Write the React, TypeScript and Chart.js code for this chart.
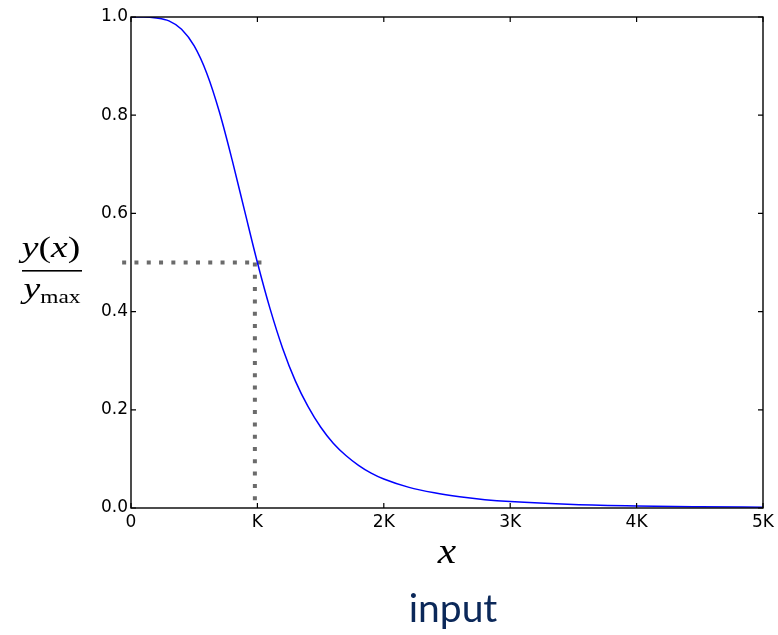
import React, { useEffect, useRef } from "react";
import { Chart, registerables } from "chart.js";

Chart.register(...registerables);

// Curve (x in units of K, y = y(x)/ymax)
const curveX = [0, 0.1, 0.2, 0.3, 0.4, 0.5, 0.6, 0.7, 0.8, 0.9, 1.0, 1.1, 1.2, 1.3, 1.4, 1.5, 1.6, 1.7, 1.8, 1.9, 2.0, 2.2, 2.4, 2.6, 2.8, 3.0, 3.5, 4.0, 4.5, 5.0];
const curveY = [1.0, 1.0, 0.998, 0.992, 0.975, 0.941, 0.885, 0.806, 0.709, 0.604, 0.5, 0.406, 0.325, 0.259, 0.207, 0.165, 0.132, 0.107, 0.087, 0.071, 0.059, 0.042, 0.031, 0.023, 0.017, 0.013, 0.007, 0.004, 0.0025, 0.0016];

const xTickLabels = ["0", "K", "2K", "3K", "4K", "5K"];
const yTickLabels = ["0.0", "0.2", "0.4", "0.6", "0.8", "1.0"];

// Dotted guide lines (half-maximum at x = K)
const guideHX = [-0.07, 1.04];
const guideHY = [0.5, 0.5];
const guideVX = [0.98, 0.98];
const guideVY = [0.5, 0.0];

const xLabel = "x";
const bottomCaption = "input";

type Piece = { text: string; font: string; dy: number };

function drawRun(ctx: CanvasRenderingContext2D, pieces: Piece[], cx: number, baseline: number, sx: number) {
  let total = 0;
  const widths = pieces.map((p) => {
    ctx.font = p.font;
    const w = ctx.measureText(p.text).width;
    total += w;
    return w;
  });
  ctx.save();
  ctx.translate(cx, baseline);
  ctx.scale(sx, 1);
  let x = -total / 2;
  ctx.textAlign = "left";
  ctx.textBaseline = "alphabetic";
  pieces.forEach((p, i) => {
    ctx.font = p.font;
    ctx.fillText(p.text, x, p.dy);
    x += widths[i];
  });
  ctx.restore();
}

const framePlugin = {
  id: "framePlugin",
  afterDraw(chart: any) {
    const ctx: CanvasRenderingContext2D = chart.ctx;
    const { left, right, top, bottom } = chart.chartArea;
    const xs = chart.scales.x;
    const ys = chart.scales.y;
    ctx.save();
    // inward ticks
    ctx.strokeStyle = "#000";
    ctx.lineWidth = 1.2;
    const tl = 5;
    xs.ticks.forEach((t: any) => {
      const px = xs.getPixelForValue(t.value);
      ctx.beginPath();
      ctx.moveTo(px, bottom);
      ctx.lineTo(px, bottom - tl);
      ctx.moveTo(px, top);
      ctx.lineTo(px, top + tl);
      ctx.stroke();
    });
    ys.ticks.forEach((t: any) => {
      const py = ys.getPixelForValue(t.value);
      ctx.beginPath();
      ctx.moveTo(left, py);
      ctx.lineTo(left + tl, py);
      ctx.moveTo(right, py);
      ctx.lineTo(right - tl, py);
      ctx.stroke();
    });
    // frame
    ctx.lineWidth = 1.4;
    ctx.strokeRect(left, top, right - left, bottom - top);

    // y-axis label as a fraction
    ctx.fillStyle = "#000";
    drawRun(
      ctx,
      [
        { text: "y", font: 'italic 29px "Liberation Serif"', dy: 0 },
        { text: "(", font: '29px "Liberation Serif"', dy: 0 },
        { text: "x", font: 'italic 29px "Liberation Serif"', dy: 0 },
        { text: ")", font: '29px "Liberation Serif"', dy: 0 },
      ],
      51,
      257,
      1.3
    );
    ctx.fillRect(22, 270, 60, 1.6);
    drawRun(
      ctx,
      [
        { text: "y", font: 'italic 29px "Liberation Serif"', dy: 0 },
        { text: "max", font: '18px "Liberation Serif"', dy: 5 },
      ],
      52,
      298,
      1.3
    );

    // x-axis label
    ctx.font = 'italic 36px "Liberation Serif"';
    ctx.textAlign = "center";
    ctx.textBaseline = "alphabetic";
    ctx.save();
    ctx.translate((left + right) / 2, 563);
    ctx.scale(1.15, 1);
    ctx.fillText(xLabel, 0, 0);
    ctx.restore();

    // caption
    ctx.font = '39px Lato';
    ctx.fillStyle = "#0b2859";
    ctx.fillText(bottomCaption, 453, 622);
    ctx.restore();
  },
};

export default function App() {
  const ref = useRef<HTMLCanvasElement | null>(null);
  useEffect(() => {
    if (!ref.current) return;
    const chart = new Chart(ref.current, {
      type: "line",
      data: {
        datasets: [
          {
            data: curveX.map((x, i) => ({ x, y: curveY[i] })),
            borderColor: "#0000ff",
            borderWidth: 1.5,
            pointRadius: 0,
            cubicInterpolationMode: "monotone",
            order: 1,
          },
          {
            data: guideHX.map((x, i) => ({ x, y: guideHY[i] })),
            borderColor: "#6b6b6b",
            borderWidth: 4,
            borderDash: [4, 8.3],
            borderCapStyle: "butt",
            pointRadius: 0,
            clip: false,
            order: 2,
          },
          {
            data: guideVX.map((x, i) => ({ x, y: guideVY[i] })),
            borderColor: "#6b6b6b",
            borderWidth: 4,
            borderDash: [4, 8.3],
            borderCapStyle: "butt",
            pointRadius: 0,
            clip: false,
            order: 2,
          },
        ],
      } as any,
      options: {
        animation: false,
        responsive: false,
        devicePixelRatio: 1,
        layout: { padding: { left: 0, top: 17, right: 15, bottom: 0 } },
        plugins: { legend: { display: false }, tooltip: { enabled: false } },
        events: [],
        scales: {
          x: {
            type: "linear",
            min: 0,
            max: 5,
            grid: { display: false, drawTicks: false },
            border: { display: false },
            ticks: {
              stepSize: 1,
              autoSkip: false,
              maxRotation: 0,
              padding: 4,
              color: "#000",
              font: { family: '"DejaVu Sans"', size: 17 },
              callback: (_v: any, i: number) => xTickLabels[i],
            },
            afterFit: (s: any) => {
              s.height = 127;
            },
          },
          y: {
            type: "linear",
            min: 0,
            max: 1,
            grid: { display: false, drawTicks: false },
            border: { display: false },
            ticks: {
              stepSize: 0.2,
              padding: 3,
              color: "#000",
              font: { family: '"DejaVu Sans"', size: 17 },
              callback: (_v: any, i: number) => yTickLabels[i],
            },
            afterFit: (s: any) => {
              s.width = 131;
            },
          },
        },
      } as any,
      plugins: [framePlugin],
    });
    return () => chart.destroy();
  }, []);
  return (
    <div style={{ position: "absolute", left: 0, top: 0, width: 778, height: 635, background: "#fff" }}>
      <canvas ref={ref} width={778} height={635} style={{ display: "block" }} />
    </div>
  );
}
